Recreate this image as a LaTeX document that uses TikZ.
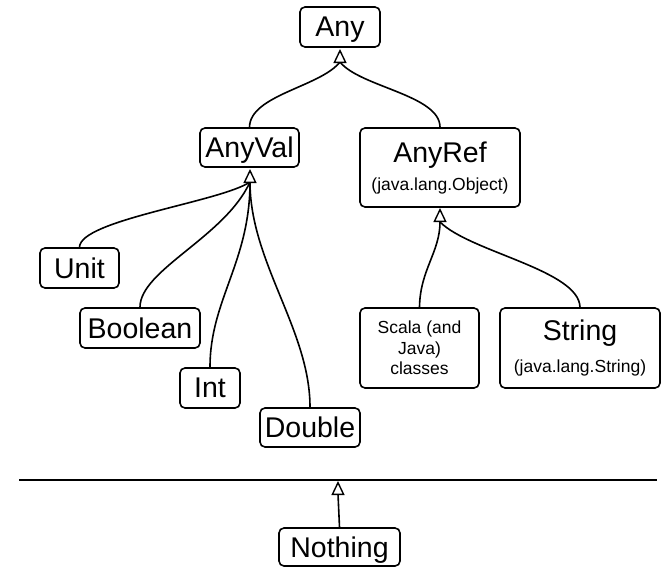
\documentclass[tikz,border=0pt]{standalone}
\usepackage{fontspec}
\setmainfont{Liberation Sans}
\usetikzlibrary{arrows.meta}
\newcommand{\bigtxt}{\fontsize{28.5}{29}\selectfont}
\newcommand{\smalltxt}{\fontsize{17.5}{20.5}\selectfont}
\tikzset{
  box/.style={draw, rounded corners=5pt, line width=1.6pt, inner sep=0pt, align=center, fill=white},
  big/.style={font=\bigtxt, text depth=0pt},
  small/.style={font=\smalltxt},
  conn/.style={line width=1.6pt},
  inh/.style={line width=1.6pt, -{Triangle[fill=white, length=14pt, width=13pt, line width=1.4pt]}},
}
\begin{document}
\begin{tikzpicture}[x=1pt, y=-1pt]
\useasboundingbox (0,0) rectangle (667,576);
% nodes
\node[box, big, minimum width=80pt, minimum height=40pt] (any) at (340,27) {Any};
\node[box, big, minimum width=99pt, minimum height=39pt] (anyval) at (249.5,147.5) {AnyVal};
\node[box, font=\bigtxt, minimum width=160pt, minimum height=79pt] (anyref) at (440,167.5)
  {AnyRef\\[-1pt]{\smalltxt (java.lang.Object)}};
\node[box, big, minimum width=79pt, minimum height=40pt] (unit) at (79.5,268) {Unit};
\node[box, big, minimum width=120pt, minimum height=40pt] (boolean) at (140,328) {Boolean};
\node[box, big, minimum width=60pt, minimum height=40pt] (int) at (210,388) {Int};
\node[box, big, minimum width=100pt, minimum height=39pt] (double) at (310,427.5) {Double};
\node[box, small, minimum width=119pt, minimum height=80pt] (scala) at (419.5,348)
  {Scala (and\\Java)\\classes};
\node[box, font=\bigtxt, minimum width=160pt, minimum height=80pt] (string) at (580,348)
  {String\\[3pt]{\smalltxt (java.lang.String)}};
\node[box, big, minimum width=121pt, minimum height=38pt] (nothing) at (339.5,547) {Nothing};
% bottom line
\coordinate (lineL) at (19,480);
\coordinate (lineR) at (657,480);
\draw[conn] (lineL) -- (lineR);
% junctions
\coordinate (anyj) at (340,62);
\coordinate (anytip) at (340,49);
\coordinate (valj) at (250,182);
\coordinate (valtip) at (250,169);
\coordinate (refj) at (440,222);
\coordinate (reftip) at (440,208);
\coordinate (nothj) at (338,494);
\coordinate (nothtip) at (338,481);
% connectors to Any
\draw[conn] (anyval.north) .. controls (250,95) and (320,87) .. (anyj);
\draw[conn] (anyref.north) .. controls (440,95) and (360,87) .. (anyj);
\draw[inh] (anyj) -- (anytip);
% connectors to AnyVal
\draw[conn] (unit.north) .. controls (80,220) and (220,202) .. (valj);
\draw[conn] (boolean.north) .. controls (140,270) and (225,237) .. (valj);
\draw[conn] (int.north) .. controls (210,300) and (250,262) .. (valj);
\draw[conn] (double.north) .. controls (310,330) and (250,262) .. (valj);
\draw[inh] (valj) -- (valtip);
% connectors to AnyRef
\draw[conn] (scala.north) .. controls (420,270) and (440,252) .. (refj);
\draw[conn] (string.north) .. controls (579,270) and (470,252) .. (refj);
\draw[inh] (refj) -- (reftip);
% Nothing
\draw[conn] (nothing.north) -- (nothj);
\draw[inh] (nothj) -- (nothtip);
\end{tikzpicture}
\end{document}
